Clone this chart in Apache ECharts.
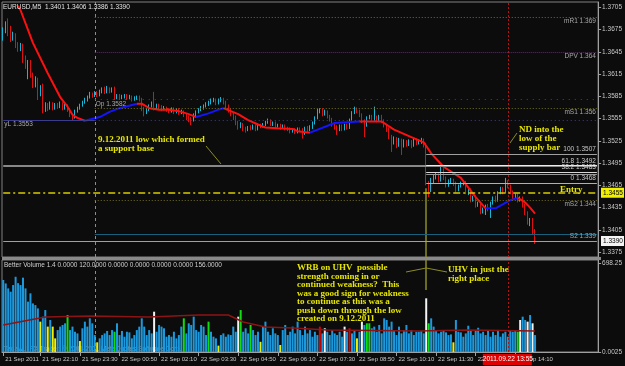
<!DOCTYPE html>
<html><head><meta charset="utf-8"><title>EURUSD M5</title>
<script src="https://cdn.jsdelivr.net/npm/echarts@6/dist/echarts.min.js"></script>
<style>html,body{margin:0;padding:0;background:#0c0c0c;overflow:hidden}#chart{width:625px;height:366px}</style>
</head><body><div id="chart"></div>
<script>
// ---------------- DATA ----------------
const symbolTitle = 'EURUSD,M5';
const slotCount = 241; // bars + chart shift space
const tickIdx = [0,15,31,47,63,79,95,111,127,143,159,175,191,207];
const tickLabels = ['21 Sep 2011','21 Sep 22:10','21 Sep 23:30','22 Sep 00:50','22 Sep 02:10','22 Sep 03:30','22 Sep 04:50','22 Sep 06:10','22 Sep 07:30','22 Sep 08:50','22 Sep 10:10','22 Sep 11:30','22 Sep 12:50','22 Sep 14:10'];
const priceTicks = [1.3705,1.3675,1.3645,1.3615,1.3585,1.3555,1.3525,1.3495,1.3465,1.3435,1.3405,1.3375];
const volTickValues = [698.25, 0];
const volTickLabels = ['698.25', '0.0025'];

// [open, close, low, high]
const candles = [
[1.3665,1.3674,1.3660,1.3678],[1.3674,1.3681,1.3670,1.3686],[1.3681,1.3670,1.3666,1.3690],[1.3670,1.3664,1.3658,1.3680],
[1.3664,1.3668,1.3660,1.3672],[1.3668,1.3654,1.3650,1.3670],[1.3654,1.3650,1.3645,1.3658],[1.3650,1.3654,1.3646,1.3657],
[1.3654,1.3634,1.3630,1.3656],[1.3634,1.3627,1.3622,1.3640],[1.3627,1.3631,1.3608,1.3634],[1.3631,1.3614,1.3610,1.3634],
[1.3614,1.3600,1.3596,1.3617],[1.3600,1.3607,1.3597,1.3612],[1.3607,1.3587,1.3580,1.3610],[1.3587,1.3596,1.3585,1.3600],
[1.3596,1.3567,1.3562,1.3602],[1.3567,1.3573,1.3564,1.3577],[1.3573,1.3569,1.3565,1.3576],[1.3569,1.3575,1.3567,1.3578],
[1.3575,1.3569,1.3566,1.3577],[1.3569,1.3573,1.3567,1.3576],[1.3573,1.3571,1.3568,1.3576],[1.3571,1.3575,1.3569,1.3578],
[1.3575,1.3569,1.3566,1.3577],[1.3569,1.3572,1.3567,1.3575],[1.3572,1.3567,1.3564,1.3574],[1.3567,1.3560,1.3557,1.3569],
[1.3560,1.3557,1.3553,1.3562],[1.3557,1.3565,1.3555,1.3567],[1.3565,1.3569,1.3563,1.3571],[1.3569,1.3573,1.3567,1.3575],
[1.3573,1.3577,1.3571,1.3579],[1.3577,1.3580,1.3575,1.3583],[1.3580,1.3584,1.3578,1.3586],[1.3584,1.3588,1.3582,1.3591],
[1.3588,1.3586,1.3583,1.3590],[1.3586,1.3590,1.3584,1.3592],[1.3590,1.3587,1.3584,1.3592],[1.3587,1.3591,1.3585,1.3594],
[1.3591,1.3594,1.3589,1.3597],[1.3594,1.3591,1.3588,1.3598],[1.3591,1.3595,1.3589,1.3599],[1.3595,1.3592,1.3589,1.3597],
[1.3592,1.3594,1.3590,1.3597],[1.3594,1.3584,1.3580,1.3598],[1.3584,1.3586,1.3581,1.3588],[1.3586,1.3583,1.3580,1.3588],
[1.3583,1.3584,1.3581,1.3587],[1.3584,1.3586,1.3582,1.3588],[1.3586,1.3583,1.3580,1.3588],[1.3583,1.3584,1.3581,1.3587],
[1.3584,1.3581,1.3578,1.3586],[1.3581,1.3583,1.3579,1.3585],[1.3583,1.3584,1.3580,1.3586],[1.3584,1.3581,1.3578,1.3586],
[1.3581,1.3569,1.3565,1.3583],[1.3569,1.3563,1.3558,1.3571],[1.3563,1.3567,1.3561,1.3569],[1.3567,1.3572,1.3565,1.3574],
[1.3572,1.3575,1.3570,1.3578],[1.3575,1.3569,1.3566,1.3591],[1.3569,1.3573,1.3567,1.3575],[1.3573,1.3571,1.3568,1.3575],
[1.3571,1.3568,1.3565,1.3573],[1.3568,1.3569,1.3566,1.3572],[1.3569,1.3567,1.3564,1.3571],[1.3567,1.3565,1.3562,1.3569],
[1.3565,1.3568,1.3563,1.3570],[1.3568,1.3564,1.3561,1.3570],[1.3564,1.3567,1.3562,1.3569],[1.3567,1.3563,1.3560,1.3569],
[1.3563,1.3564,1.3561,1.3567],[1.3564,1.3560,1.3557,1.3566],[1.3560,1.3557,1.3553,1.3562],[1.3557,1.3554,1.3550,1.3559],
[1.3554,1.3553,1.3546,1.3557],[1.3553,1.3560,1.3551,1.3562],[1.3560,1.3564,1.3558,1.3566],[1.3564,1.3567,1.3562,1.3569],
[1.3567,1.3569,1.3565,1.3572],[1.3569,1.3572,1.3567,1.3574],[1.3572,1.3575,1.3570,1.3577],[1.3575,1.3576,1.3572,1.3579],
[1.3576,1.3579,1.3574,1.3582],[1.3579,1.3580,1.3577,1.3583],[1.3580,1.3576,1.3573,1.3582],[1.3576,1.3579,1.3574,1.3582],
[1.3579,1.3581,1.3577,1.3584],[1.3581,1.3577,1.3574,1.3583],[1.3577,1.3572,1.3569,1.3579],[1.3572,1.3567,1.3563,1.3574],
[1.3567,1.3561,1.3558,1.3569],[1.3561,1.3557,1.3553,1.3563],[1.3557,1.3550,1.3546,1.3559],[1.3550,1.3545,1.3540,1.3552],
[1.3545,1.3547,1.3542,1.3550],[1.3547,1.3542,1.3538,1.3549],[1.3542,1.3540,1.3536,1.3544],[1.3540,1.3543,1.3538,1.3545],
[1.3543,1.3542,1.3539,1.3546],[1.3542,1.3545,1.3540,1.3547],[1.3545,1.3541,1.3538,1.3547],[1.3541,1.3546,1.3539,1.3548],
[1.3546,1.3545,1.3542,1.3548],[1.3545,1.3547,1.3543,1.3549],[1.3547,1.3550,1.3545,1.3552],[1.3550,1.3552,1.3548,1.3555],
[1.3552,1.3547,1.3545,1.3554],[1.3547,1.3549,1.3545,1.3551],[1.3549,1.3545,1.3542,1.3551],[1.3545,1.3546,1.3543,1.3548],
[1.3546,1.3543,1.3540,1.3548],[1.3543,1.3545,1.3541,1.3547],[1.3545,1.3542,1.3539,1.3547],[1.3542,1.3541,1.3538,1.3544],
[1.3541,1.3538,1.3535,1.3543],[1.3538,1.3540,1.3536,1.3542],[1.3540,1.3537,1.3534,1.3542],[1.3537,1.3541,1.3535,1.3543],
[1.3541,1.3540,1.3537,1.3543],[1.3540,1.3535,1.3528,1.3542],[1.3535,1.3542,1.3533,1.3544],[1.3542,1.3540,1.3537,1.3545],
[1.3540,1.3543,1.3538,1.3546],[1.3543,1.3549,1.3541,1.3551],[1.3549,1.3556,1.3547,1.3558],[1.3556,1.3564,1.3554,1.3568],
[1.3564,1.3567,1.3562,1.3569],[1.3567,1.3561,1.3558,1.3569],[1.3561,1.3564,1.3559,1.3567],[1.3564,1.3558,1.3555,1.3566],
[1.3558,1.3554,1.3551,1.3560],[1.3554,1.3547,1.3544,1.3556],[1.3547,1.3543,1.3540,1.3549],[1.3543,1.3540,1.3533,1.3546],
[1.3540,1.3545,1.3538,1.3547],[1.3545,1.3541,1.3538,1.3547],[1.3541,1.3546,1.3539,1.3548],[1.3546,1.3543,1.3540,1.3548],
[1.3543,1.3553,1.3541,1.3555],[1.3553,1.3563,1.3551,1.3565],[1.3563,1.3568,1.3561,1.3571],[1.3568,1.3565,1.3562,1.3570],
[1.3565,1.3560,1.3557,1.3567],[1.3560,1.3552,1.3549,1.3562],[1.3552,1.3546,1.3530,1.3554],[1.3546,1.3556,1.3544,1.3558],
[1.3556,1.3558,1.3554,1.3560],[1.3558,1.3554,1.3551,1.3560],[1.3554,1.3557,1.3552,1.3571],[1.3557,1.3553,1.3550,1.3559],
[1.3553,1.3558,1.3551,1.3560],[1.3558,1.3552,1.3549,1.3560],[1.3552,1.3546,1.3543,1.3554],[1.3546,1.3541,1.3537,1.3548],
[1.3541,1.3531,1.3527,1.3543],[1.3531,1.3523,1.3510,1.3533],[1.3523,1.3528,1.3520,1.3531],[1.3528,1.3519,1.3515,1.3530],
[1.3519,1.3526,1.3517,1.3529],[1.3526,1.3518,1.3506,1.3528],[1.3518,1.3524,1.3516,1.3527],[1.3524,1.3520,1.3517,1.3526],
[1.3520,1.3524,1.3518,1.3527],[1.3524,1.3519,1.3515,1.3526],[1.3519,1.3526,1.3517,1.3529],[1.3526,1.3522,1.3519,1.3528],
[1.3522,1.3524,1.3520,1.3527],[1.3524,1.3526,1.3521,1.3529],[1.3526,1.3519,1.3516,1.3528],[1.3519,1.3469,1.3465,1.3522],
[1.3469,1.3459,1.3449,1.3471],[1.3459,1.3472,1.3456,1.3475],[1.3472,1.3476,1.3468,1.3479],[1.3476,1.3479,1.3473,1.3482],
[1.3479,1.3472,1.3469,1.3481],[1.3472,1.3486,1.3470,1.3490],[1.3486,1.3475,1.3472,1.3488],[1.3475,1.3465,1.3462,1.3477],
[1.3465,1.3470,1.3463,1.3473],[1.3470,1.3472,1.3467,1.3475],[1.3472,1.3468,1.3464,1.3474],[1.3468,1.3459,1.3455,1.3470],
[1.3459,1.3464,1.3457,1.3466],[1.3464,1.3468,1.3462,1.3470],[1.3468,1.3469,1.3465,1.3472],[1.3469,1.3456,1.3453,1.3471],
[1.3456,1.3459,1.3452,1.3461],[1.3459,1.3445,1.3442,1.3461],[1.3445,1.3449,1.3443,1.3451],[1.3449,1.3438,1.3435,1.3451],
[1.3438,1.3441,1.3436,1.3443],[1.3441,1.3429,1.3426,1.3443],[1.3429,1.3432,1.3427,1.3435],[1.3432,1.3437,1.3425,1.3439],
[1.3437,1.3434,1.3430,1.3440],[1.3434,1.3441,1.3421,1.3443],[1.3441,1.3448,1.3439,1.3450],[1.3448,1.3445,1.3442,1.3451],
[1.3445,1.3455,1.3443,1.3457],[1.3455,1.3461,1.3453,1.3463],[1.3461,1.3456,1.3453,1.3463],[1.3456,1.3469,1.3454,1.3475],
[1.3469,1.3464,1.3461,1.3472],[1.3464,1.3456,1.3453,1.3466],[1.3456,1.3449,1.3446,1.3458],[1.3449,1.3452,1.3447,1.3454],
[1.3452,1.3445,1.3442,1.3454],[1.3445,1.3448,1.3443,1.3450],[1.3448,1.3438,1.3435,1.3450],[1.3438,1.3428,1.3425,1.3440],
[1.3428,1.3415,1.3412,1.3430],[1.3415,1.3419,1.3410,1.3421],[1.3419,1.3401,1.3399,1.3421],[1.3401,1.3390,1.3386,1.3406]
];

const volumes = [
565,538,499,473,525,590,540,525, 583,499,395,460,381,368,342,238, 277,329,199,251,199,107,172,199,
212,225,290,172,199,159,146,86, 186,238,199,264,225,133,76,107, 133,146,165,133,172,159,225,133,
165,120,159,154,107,133,172,199, 264,199,133,172,146,316,159,212, 199,186,120,133,120,159,107,133,
199,264,146,225,212,277,172,159, 212,199,133,238,159,120,107,50,
133,146,120,138,133,199,159,277, 329,159,186,146,212,172,133,159, 80,199,238,159,133,186,146,133,
55,172,212,133,159,199,146,238, 172,133,199,146,172,120,159,133, 199,146,186,159,133,172,146,133,
159,120,199,159,186,146,172,107, 159,238,212,225,225,186,199,159, 212,146,264,251,199,238,172,133,
199,146,172,212,146,172,133,159,
159,165,146,421,225,264,199,172, 146,159,172,154,133,138,76,251, 159,154,120,146,206,172,133,172,
190,146,159,133,172,120,159,133, 172,120,146,159,120,172,159,165, 159,251,277,251,238,290,225,133
];
const yellowBars = [15,18,20,21,31,38,87,104,112,143,182];
const greenBars = [26,45,73,83,96,100,147,148,172,208];
const whiteBars = [61,95,130,138,145,171,209,212,214];
const redBars = [128,140];
const volMA = [[0,212],[17,274],[35,282],[59,274],[79,290],[91,290],[97,235],[106,196],[117,188],[131,172],[168,165],[188,172],[215,165]];

// moving average, red when falling, blue when rising
const maRed1 = [[6,1.3707],[7,1.3701],[12,1.3657],[18,1.3616],[23,1.3584],[26,1.3571],[28,1.3560],[30,1.3556],[33,1.3552]];
const maBlue1 = [[33,1.3552],[39,1.3557],[43,1.3564],[47,1.3569],[54,1.3575]];
const maRed2 = [[54,1.3575],[56,1.3575],[59,1.3569],[63,1.3567],[67,1.3567],[71,1.3565],[75,1.3561],[78,1.3557]];
const maBlue2 = [[78,1.3557],[83,1.3562],[87,1.3567],[89,1.3569]];
const maRed3 = [[89,1.3569],[95,1.3561],[99,1.3553],[103,1.3547],[106,1.3543],[111,1.3542],[117,1.3541],[119,1.3538],[124,1.3536]];
const maBlue3 = [[124,1.3536],[134,1.3549],[144,1.3551]];
const maRed4 = [[144,1.3551],[153,1.3551],[158,1.3540],[165,1.3530],[170,1.3523],[173,1.3508],[178,1.3490],[185,1.3475],[191,1.3449],[195,1.3434]];
const maBlue4 = [[195,1.3434],[199,1.3434],[205,1.3445],[208,1.3448]];
const maRed5 = [[208,1.3448],[211,1.3442],[213,1.3435],[215,1.3427]];

// levels
const pivotNames = ['mR1 1.369','DPV 1.364','Op 1.3582','mS1 1.356','mS2 1.344'];
const pivotValues = [1.3692, 1.3645, 1.3581, 1.3569, 1.3445];
const yLowName = 'yL 1.3553', yLowValue = 1.3553;
const s2Name = 'S2 1.339', s2Value = 1.3390;
const fibNames = ['100 1.3507','61.8 1.3492','38.2 1.3483','','0 1.3468'];
const fibValues = [1.3507, 1.3492, 1.3483, 1.3480, 1.3468];
const supportValue = 1.3491;
const entryValue = 1.3455, entryText = 'Entry';
const tealValue = 1.3399;
const separatorIndex = 37, crossIndex = 204, crossText = '2011.09.22 13:55';
const uhvIndex = 171, uhvTopPrice = 1.3461, uhvBottomVol = 486;
const indicatorText = 'Better Volume 1.4 0.0000 120.0000 0.0000 0.0000 0.0000 0.0000 156.0000';
const watermark = 'Tadawul FX Trader, \u00a9 2001-2011 MetaQuotes Software Corp.';
const noteSupport = ['9.12.2011 low which formed','a support base'];
const noteND = ['ND into the','low of the','supply bar'];
const noteWRB = ['WRB on UHV  possible','strength coming in or','continued weakness?  This','was a good sign for weakness','to continue as this was a','push down through the low','created on 9.12.2011'];
const noteUHV = ['UHV in just the','right place'];

// ---------------- CHART ----------------
const PMIN = 1.33684, PMAX = 1.37121, VMAX = 721.5;
const SANS = '"Liberation Sans", Arial, sans-serif';
const SERIF = '"Liberation Serif", "Times New Roman", serif';
const TXT = '#c8c8c8', OLIVE = '#6e6e22', NOTE = '#e6e600', LINK = '#8c8c24';
const LASTSLOT = slotCount - 1;
const cats = Array.from({length: slotCount}, (_, i) => String(i));
const labelAt = {}; tickIdx.forEach((k, j) => labelAt[k] = tickLabels[j]);
const last = candles[candles.length - 1];

function volColor(i) {
  if (whiteBars.includes(i)) return '#f4f4f4';
  if (yellowBars.includes(i)) return '#f0f000';
  if (greenBars.includes(i)) return '#10dc10';
  if (redBars.includes(i)) return '#e00000';
  return '#1c98dc';
}
const lbl = (text, pos, color) => ({show: true, formatter: text, position: pos, color: color || '#a8a8a8', fontSize: 6.5, fontFamily: SANS, distance: 1});
function seg(from, to, v, style, label) {
  return [{coord: [from, v], lineStyle: style, label: label || {show: false}}, {coord: [to, v]}];
}

const chart = echarts.init(document.getElementById('chart'), null, {renderer: 'canvas', width: 625, height: 366});

const priceLines = [
  {xAxis: separatorIndex, lineStyle: {color: '#8c8c8c', type: [3, 3], width: 1}},
  {xAxis: crossIndex, lineStyle: {color: '#b41414', type: [2, 2], width: 1}},
  [{coord: [uhvIndex, uhvTopPrice], lineStyle: {color: LINK, width: 1.5, type: 'solid'}}, {coord: [uhvIndex, PMIN]}],
  seg(separatorIndex, LASTSLOT, pivotValues[0], {color: OLIVE, type: [1, 2], width: 1}, lbl(pivotNames[0], 'insideEndBottom')),
  seg(separatorIndex, LASTSLOT, pivotValues[1], {color: '#6a1e82', type: [1, 1], width: 1}, lbl(pivotNames[1], 'insideEndBottom')),
  seg(separatorIndex, LASTSLOT, pivotValues[2], {color: '#1e5a72', type: [1, 5], width: 1}, lbl(pivotNames[2], 'insideStartBottom')),
  seg(separatorIndex, LASTSLOT, pivotValues[3], {color: OLIVE, type: [1, 2], width: 1}, lbl(pivotNames[3], 'insideEndBottom')),
  seg(separatorIndex, LASTSLOT, pivotValues[4], {color: OLIVE, type: [1, 2], width: 1}, lbl(pivotNames[4], 'insideEndBottom')),
  seg(0, separatorIndex, yLowValue, {color: '#3c3c8c', type: 'solid', width: 1}, lbl(yLowName, 'insideStartBottom')),
  seg(separatorIndex, LASTSLOT, yLowValue, {color: '#3c3c8c', type: [1, 3], width: 1}),
  seg(separatorIndex, LASTSLOT, tealValue, {color: '#1a607c', type: 'solid', width: 1}),
  seg(0, LASTSLOT, supportValue, {color: '#888888', type: 'solid', width: 2}),
  seg(0, LASTSLOT, s2Value, {color: '#a0a0a0', type: 'solid', width: 1}, lbl(s2Name, 'insideEndTop')),
  seg(0, LASTSLOT, entryValue, {color: '#d8cc00', type: [7, 3, 2, 3], width: 1.5}),
  seg(uhvIndex, LASTSLOT, fibValues[0], {color: '#a0a0a0', type: 'solid', width: 1}, lbl(fibNames[0], 'insideEndTop', '#c8c8c8')),
  seg(uhvIndex, LASTSLOT, fibValues[1], {color: '#ececec', type: 'solid', width: 1}, lbl(fibNames[1], 'insideEndTop', '#d0d0d0')),
  seg(uhvIndex, LASTSLOT, fibValues[2], {color: '#d8d8d8', type: 'solid', width: 1}, lbl(fibNames[2], 'insideEndTop', '#d0d0d0')),
  seg(uhvIndex, LASTSLOT, fibValues[3], {color: '#9a9a9a', type: 'solid', width: 1}),
  seg(uhvIndex, LASTSLOT, fibValues[4], {color: '#b0b0b0', type: 'solid', width: 1}, lbl(fibNames[4], 'insideEndTop', '#c8c8c8'))
];

const maSeries = (data, color) => ({type: 'line', xAxisIndex: 0, yAxisIndex: 0, data, symbol: 'none', lineStyle: {color, width: 2}, silent: true, z: 4});

chart.setOption({
  animation: false,
  backgroundColor: '#0c0c0c',
  grid: [
    {left: 2, top: 2, width: 599, height: 255, show: true, borderColor: '#808080', borderWidth: 1},
    {left: 2, top: 260, width: 599, height: 92, show: true, borderColor: '#808080', borderWidth: 1}
  ],
  xAxis: [
    {type: 'category', gridIndex: 0, data: cats, boundaryGap: true, axisLine: {show: false}, axisTick: {show: false}, axisLabel: {show: false}, splitLine: {show: false}},
    {type: 'category', gridIndex: 1, data: cats, boundaryGap: true,
     axisLine: {show: true, lineStyle: {color: '#a0a0a0'}},
     axisTick: {show: true, alignWithLabel: true, interval: (i) => labelAt[i] !== undefined, length: 4, lineStyle: {color: '#a0a0a0'}},
     axisLabel: {show: true, interval: (i) => labelAt[i] !== undefined, formatter: (v, i) => labelAt[i] || '', align: 'left', padding: [0, 0, 0, 2], margin: 4, color: TXT, fontSize: 6, fontFamily: SANS},
     splitLine: {show: false}}
  ],
  yAxis: [
    {type: 'value', gridIndex: 0, position: 'right', min: PMIN, max: PMAX, scale: true,
     axisLine: {show: true, lineStyle: {color: '#a0a0a0'}},
     axisTick: {show: true, length: 3, inside: false, customValues: priceTicks, lineStyle: {color: '#a0a0a0'}},
     axisLabel: {show: true, customValues: priceTicks, formatter: (v) => v.toFixed(4), color: TXT, fontSize: 6.5, fontFamily: SANS, margin: 4},
     splitLine: {show: false}},
    {type: 'value', gridIndex: 1, position: 'right', min: 0, max: VMAX,
     axisLine: {show: true, lineStyle: {color: '#a0a0a0'}},
     axisTick: {show: true, length: 3, customValues: volTickValues, lineStyle: {color: '#a0a0a0'}},
     axisLabel: {show: true, customValues: volTickValues, formatter: (v) => volTickLabels[volTickValues.indexOf(v)], color: TXT, fontSize: 6.5, fontFamily: SANS, margin: 4},
     splitLine: {show: false}}
  ],
  series: [
    {type: 'candlestick', xAxisIndex: 0, yAxisIndex: 0, data: candles, barMaxWidth: 2, silent: true, z: 3,
     itemStyle: {color: '#17b6d6', color0: '#e01010', borderColor: '#17b6d6', borderColor0: '#e01010', borderWidth: 1},
     markLine: {symbol: ['none', 'none'], silent: true, precision: 6, label: {show: false}, data: priceLines}},
    maSeries(maRed1, '#ff1010'), maSeries(maBlue1, '#1414ff'), maSeries(maRed2, '#ff1010'), maSeries(maBlue2, '#1414ff'),
    maSeries(maRed3, '#ff1010'), maSeries(maBlue3, '#1414ff'), maSeries(maRed4, '#ff1010'), maSeries(maBlue4, '#1414ff'),
    maSeries(maRed5, '#ff1010'),
    {type: 'bar', xAxisIndex: 1, yAxisIndex: 1, barWidth: 2, silent: true, z: 3,
     data: volumes.map((v, i) => ({value: v, itemStyle: {color: volColor(i)}})),
     markLine: {symbol: ['none', 'none'], silent: true, precision: 6, label: {show: false}, data: [
       {xAxis: separatorIndex, lineStyle: {color: '#8c8c8c', type: [3, 3], width: 1}},
       {xAxis: crossIndex, lineStyle: {color: '#b41414', type: [2, 2], width: 1}},
       [{coord: [uhvIndex, VMAX], lineStyle: {color: LINK, width: 1.5, type: 'solid'}}, {coord: [uhvIndex, uhvBottomVol]}]
     ]}},
    {type: 'line', xAxisIndex: 1, yAxisIndex: 1, data: volMA, symbol: 'none', silent: true, z: 4, lineStyle: {color: '#8c1414', width: 1.5}}
  ]
});

// ------------- overlays (texts, boxes) -------------
const yP = (v) => chart.convertToPixel({yAxisIndex: 0}, v);
const xI = (i) => chart.convertToPixel({xAxisIndex: 0}, i);
const txt = (x, y, text, font, fill, z, align) => ({type: 'text', x, y, z: z == null ? 100 : z, silent: true,
  style: {text, font, fill, align: align || 'left', verticalAlign: 'middle', textAlign: align || 'left', textVerticalAlign: 'middle'}});
const noteFont = 'bold 9px ' + SERIF;
const smallFont = '6.5px ' + SANS;
const g = [];
// panel separator
g.push({type: 'rect', z: 90, silent: true, shape: {x: 2, y: 257, width: 599, height: 3}, style: {fill: '#8a8a8a'}});
// title & indicator
g.push(txt(3, 7, `${symbolTitle}  ${last[0].toFixed(4)} ${last[3].toFixed(4)} ${last[2].toFixed(4)} ${last[1].toFixed(4)}`, smallFont, '#e4e4e4'));
g.push(txt(4, 265, indicatorText, smallFont, '#d0d0d0'));
g.push(txt(4, 349, watermark, smallFont, '#b4b4b4', 0));
// notes
noteSupport.forEach((s, k) => g.push(txt(98, 140 + k * 9, s, noteFont, NOTE)));
noteND.forEach((s, k) => g.push(txt(519, 129.5 + k * 9.3, s, noteFont, NOTE)));
noteWRB.forEach((s, k) => g.push(txt(297, 268 + k * 8.5, s, noteFont, NOTE)));
noteUHV.forEach((s, k) => g.push(txt(448, 270 + k * 9, s, noteFont, NOTE)));
// connectors
const poly = (pts) => ({type: 'polyline', z: 100, silent: true, shape: {points: pts}, style: {stroke: LINK, lineWidth: 1, fill: null}});
g.push(poly([[206, 146], [221, 164]]));
g.push(poly([[510, 143], [517, 133]]));
g.push(poly([[406, 272], [xI(uhvIndex), 268], [447, 272]]));
// entry label
const yEntry = yP(entryValue);
g.push(txt(560, yEntry - 3.5, entryText, noteFont, NOTE));
// axis value boxes
const box = (v, bg) => {
  const y = yP(v);
  g.push({type: 'rect', z: 110, silent: true, shape: {x: 601, y: y - 5, width: 23, height: 10}, style: {fill: bg}});
  g.push(txt(603, y, v.toFixed(4), smallFont, '#000000', 111));
};
box(entryValue, '#f0f000');
box(s2Value, '#f4f4f4');
// crosshair time box
const xc = xI(crossIndex);
g.push({type: 'rect', z: 110, silent: true, shape: {x: xc - 25, y: 354, width: 49, height: 11}, style: {fill: '#e00000'}});
g.push(txt(xc, 359.5, crossText, smallFont, '#ffffff', 111, 'center'));

chart.setOption({graphic: g});
</script>
</body></html>
